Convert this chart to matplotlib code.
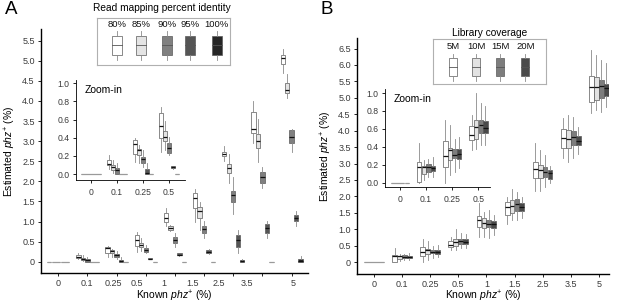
import numpy as np
import matplotlib.pyplot as plt
from matplotlib.patches import Rectangle

plt.rcParams['font.family'] = ['Liberation Sans', 'DejaVu Sans']
plt.rcParams['mathtext.fontset'] = 'custom'
plt.rcParams['mathtext.rm'] = 'Liberation Sans'
plt.rcParams['mathtext.it'] = 'Liberation Sans:italic'

known = ['0', '0.1', '0.25', '0.5', '1', '1.5', '2.5', '3.5', '5']
n_zoom = 4  # groups shown in the zoom-in insets

# ---- panel A: read mapping percent identity (rows) x known phz+ (cols)
identity = ['80%', '85%', '90%', '95%', '100%']
identity_colors = ['#ffffff', '#e4e4e4', '#808080', '#555555', '#262626']
a_lo = [[0, 0.06, 0.13, 0.24, 0.89, 1.00, 2.50, 2.95, 4.69],
        [0, 0.01, 0.12, 0.26, 0.76, 0.79, 1.97, 2.49, 4.07],
        [0, 0.00, 0.08, 0.21, 0.37, 0.58, 1.20, 1.83, 2.74],
        [0, 0.00, 0.00, 0.06, 0.15, 0.19, 0.21, 0.58, 0.89],
        [0, 0.00, 0.00, 0.00, 0.00, 0.00, 0.00, 0.00, 0.00]]
a_q1 = [[0, 0.10, 0.22, 0.40, 1.00, 1.33, 2.62, 3.21, 4.91],
        [0, 0.045, 0.21, 0.36, 0.79, 1.08, 2.20, 2.82, 4.21],
        [0, 0.00, 0.125, 0.23, 0.47, 0.71, 1.48, 1.97, 2.96],
        [0, 0.00, 0.00, 0.07, 0.16, 0.21, 0.37, 0.71, 1.01],
        [0, 0.00, 0.00, 0.00, 0.00, 0.00, 0.00, 0.00, 0.00]]
a_med = [[0, 0.11, 0.33, 0.53, 1.10, 1.58, 2.68, 3.30, 5.06],
         [0, 0.08, 0.26, 0.41, 0.85, 1.27, 2.32, 3.00, 4.27],
         [0, 0.045, 0.165, 0.29, 0.54, 0.81, 1.66, 2.12, 3.10],
         [0, 0.00, 0.015, 0.08, 0.18, 0.25, 0.54, 0.83, 1.08],
         [0, 0.00, 0.00, 0.00, 0.00, 0.00, 0.02, 0.00, 0.03]]
a_q3 = [[0, 0.16, 0.37, 0.67, 1.22, 1.70, 2.74, 3.73, 5.14],
        [0, 0.10, 0.28, 0.47, 0.89, 1.35, 2.43, 3.18, 4.44],
        [0, 0.07, 0.19, 0.34, 0.61, 0.89, 1.77, 2.24, 3.28],
        [0, 0.00, 0.05, 0.09, 0.21, 0.29, 0.66, 0.94, 1.16],
        [0, 0.00, 0.00, 0.00, 0.00, 0.00, 0.05, 0.00, 0.07]]
a_hi = [[0, 0.21, 0.40, 0.74, 1.33, 1.80, 2.88, 4.01, 5.29],
        [0, 0.16, 0.32, 0.58, 0.92, 1.49, 2.68, 3.54, 4.66],
        [0, 0.12, 0.27, 0.41, 0.71, 1.01, 2.10, 2.36, 3.29],
        [0, 0.00, 0.12, 0.09, 0.22, 0.32, 0.79, 1.01, 1.26],
        [0, 0.00, 0.00, 0.00, 0.00, 0.00, 0.08, 0.00, 0.14]]

# ---- panel B: library coverage (rows) x known phz+ (cols)
coverage = ['5M', '10M', '15M', '20M']
coverage_colors = ['#ffffff', '#e2e2e2', '#7d7d7d', '#4a4a4a']
b_lo = [[0, 0.00, 0.00, 0.36, 0.76, 1.15, 2.18, 3.16, 4.53],
        [0, 0.03, 0.08, 0.38, 0.76, 1.27, 2.15, 3.04, 4.63],
        [0, 0.06, 0.12, 0.42, 0.73, 1.27, 2.30, 3.16, 4.58],
        [0, 0.06, 0.16, 0.42, 0.83, 1.34, 2.42, 3.28, 4.73]]
b_q1 = [[0, 0.01, 0.175, 0.475, 1.08, 1.44, 2.55, 3.48, 4.88],
        [0, 0.10, 0.25, 0.49, 1.03, 1.49, 2.55, 3.47, 4.93],
        [0, 0.12, 0.27, 0.55, 1.06, 1.57, 2.59, 3.57, 5.00],
        [0, 0.13, 0.26, 0.55, 1.05, 1.57, 2.53, 3.57, 5.06]]
b_med = [[0, 0.175, 0.30, 0.53, 1.29, 1.67, 2.83, 3.77, 5.34],
         [0, 0.175, 0.36, 0.625, 1.20, 1.71, 2.79, 3.75, 5.32],
         [0, 0.17, 0.31, 0.64, 1.16, 1.77, 2.74, 3.80, 5.36],
         [0, 0.16, 0.32, 0.61, 1.16, 1.69, 2.71, 3.70, 5.29]]
b_q3 = [[0, 0.23, 0.46, 0.63, 1.39, 1.84, 3.06, 4.05, 5.67],
        [0, 0.18, 0.39, 0.70, 1.34, 1.89, 2.96, 4.02, 5.64],
        [0, 0.21, 0.37, 0.70, 1.29, 1.91, 2.91, 4.00, 5.54],
        [0, 0.18, 0.37, 0.69, 1.26, 1.81, 2.81, 3.84, 5.42]]
b_hi = [[0, 0.44, 0.70, 0.76, 1.79, 1.98, 3.64, 4.38, 6.45],
        [0, 0.25, 0.64, 1.00, 1.54, 2.22, 3.41, 4.48, 6.30],
        [0, 0.26, 0.49, 0.89, 1.59, 2.12, 3.26, 4.41, 6.15],
        [0, 0.28, 0.51, 0.85, 1.44, 1.99, 2.93, 4.12, 6.05]]

a_label_pos = [0, 0.97, 1.89, 2.71, 3.63, 4.59, 5.51, 6.46, 8.06]  # labels sit off the ticks in the original

TXT = '#3a3a3a'


def draw_boxes(ax, lo, q1, med, q3, hi, colors, n_groups, step, width):
    n = len(colors)
    for j, col in enumerate(colors):
        stats = [dict(whislo=lo[j][i], q1=q1[j][i], med=med[j][i], q3=q3[j][i], whishi=hi[j][i])
                 for i in range(n_groups)]
        pos = np.arange(n_groups) + (j - (n - 1) / 2) * step
        art = ax.bxp(stats, positions=pos, widths=width, patch_artist=True,
                     showcaps=False, showfliers=False, manage_ticks=False,
                     boxprops=dict(facecolor=col, edgecolor='#5a5a5a', linewidth=0.5),
                     medianprops=dict(color='#111111', linewidth=0.9),
                     whiskerprops=dict(color='#8a8a8a', linewidth=0.6))
        for s, m in zip(stats, art['medians']):
            if s['q3'] - s['q1'] < 0.01:
                m.set_color('#9a9a9a')


def style_axes(ax, size, lw):
    for s in ['top', 'right']:
        ax.spines[s].set_visible(False)
    for s in ['left', 'bottom']:
        ax.spines[s].set_linewidth(lw)
    ax.tick_params(labelsize=size, labelcolor=TXT, length=2.5, width=0.6, pad=2)


def legend_box(rect, labels, colors, xs, bw, y_lab, box, whisk):
    lax = fig.add_axes(rect)
    lax.set_xlim(0, 1)
    lax.set_ylim(0, 1)
    lax.set_xticks([])
    lax.set_yticks([])
    for s in lax.spines.values():
        s.set_color('#b0b0b0')
        s.set_linewidth(0.8)
    for x, lab, col in zip(xs, labels, colors):
        lax.plot([x, x], [whisk[0], box[0]], color='#8a8a8a', lw=0.6)
        lax.plot([x, x], [box[1], whisk[1]], color='#8a8a8a', lw=0.6)
        lax.add_patch(Rectangle((x - bw / 2, box[0]), bw, box[1] - box[0],
                                facecolor=col, edgecolor='#5a5a5a', lw=0.5))
        mid = (box[0] + box[1]) / 2
        lax.plot([x - bw / 2, x + bw / 2], [mid, mid], color='#555555', lw=0.6)
        lax.text(x, y_lab, lab, ha='center', va='center', fontsize=6.8, color='#111111')


fig = plt.figure(figsize=(6.17, 3.04), dpi=100)
W, H = 617, 304


def px_rect(x0, y0, x1, y1):
    return [x0 / W, 1 - y1 / H, (x1 - x0) / W, (y1 - y0) / H]


ylab = r'Estimated $\it{phz}^{+}$ (%)'
xlab = r'Known $\it{phz}^{+}$ (%)'

# ---------------- panel A
ax1 = fig.add_axes(px_rect(41, 29, 308, 273))
draw_boxes(ax1, a_lo, a_q1, a_med, a_q3, a_hi, identity_colors, len(known), 0.154, 0.148)
ax1.set_xlim(-0.59, 8.56)
ax1.set_ylim(-0.28, 5.79)
ax1.set_yticks(np.arange(0, 5.51, 0.5))
ax1.set_yticklabels(['0'] + ['%.1f' % v for v in np.arange(0.5, 5.51, 0.5)])
ax1.xaxis.remove_overlapping_locs = False
ax1.set_xticks(np.arange(len(known)))
ax1.set_xticklabels([])
ax1.set_xticks(a_label_pos, minor=True)
ax1.set_xticklabels(known, minor=True)
style_axes(ax1, 6.5, 1.0)
ax1.tick_params(axis='x', which='minor', length=0, pad=4.5, labelsize=6.5, labelcolor=TXT)
ax1.set_xlabel(xlab, fontsize=7.5, va='center')
ax1.xaxis.set_label_coords(0.5, -0.095)
ax1.set_ylabel(ylab, fontsize=7.5, labelpad=3)

ax1i = fig.add_axes(px_rect(76, 80, 185, 180))
ax1i.patch.set_alpha(0)
draw_boxes(ax1i, a_lo, a_q1, a_med, a_q3, a_hi, identity_colors, n_zoom, 0.154, 0.148)
ax1i.set_xlim(-0.58, 3.62)
ax1i.set_ylim(-0.066, 1.037)
ax1i.set_yticks(np.arange(0, 1.01, 0.2))
ax1i.set_yticklabels(['%.1f' % v for v in np.arange(0, 1.01, 0.2)])
ax1i.set_xticks(np.arange(n_zoom))
ax1i.set_xticklabels(known[:n_zoom])
style_axes(ax1i, 6.2, 0.6)
ax1i.tick_params(axis='x', pad=3)
ax1i.text(0.08, 0.95, 'Zoom-in', transform=ax1i.transAxes, fontsize=7.5, va='top')

legend_box(px_rect(97, 18, 230, 65), identity, identity_colors,
           [0.15, 0.332, 0.525, 0.70, 0.90], 0.075, 0.857, (0.214, 0.62), (0.107, 0.713))
fig.text(162 / W, 1 - 8 / H, 'Read mapping percent identity', ha='center', va='center', fontsize=7.3)
fig.text(5 / W, 1 - 1 / H, 'A', ha='left', va='top', fontsize=13.5)

# ---------------- panel B
ax2 = fig.add_axes(px_rect(357, 38, 609, 274))
draw_boxes(ax2, b_lo, b_q1, b_med, b_q3, b_hi, coverage_colors, len(known), 0.175, 0.17)
ax2.set_xlim(-0.6, 8.36)
ax2.set_ylim(-0.36, 6.82)
ax2.set_yticks(np.arange(0, 6.51, 0.5))
ax2.set_yticklabels(['0'] + ['%.1f' % v for v in np.arange(0.5, 6.51, 0.5)])
ax2.set_xticks(np.arange(len(known)))
ax2.set_xticklabels(known)
style_axes(ax2, 6.5, 1.0)
ax2.tick_params(axis='x', pad=2)
ax2.set_xlabel(xlab, fontsize=7.5, va='center')
ax2.xaxis.set_label_coords(0.5, -0.094)
ax2.set_ylabel(ylab, fontsize=7.5, labelpad=3)

ax2i = fig.add_axes(px_rect(385, 89, 490, 187))
ax2i.patch.set_alpha(0)
draw_boxes(ax2i, b_lo, b_q1, b_med, b_q3, b_hi, coverage_colors, n_zoom, 0.175, 0.17)
ax2i.set_xlim(-0.57, 3.44)
ax2i.set_ylim(-0.05, 1.045)
ax2i.set_yticks(np.arange(0, 1.01, 0.2))
ax2i.set_yticklabels(['%.1f' % v for v in np.arange(0, 1.01, 0.2)])
ax2i.set_xticks(np.arange(n_zoom))
ax2i.set_xticklabels(known[:n_zoom])
style_axes(ax2i, 6.2, 0.6)
ax2i.tick_params(axis='x', pad=3)
ax2i.text(0.08, 0.95, 'Zoom-in', transform=ax2i.transAxes, fontsize=7.5, va='top')

legend_box(px_rect(433, 39, 546, 84), coverage, coverage_colors,
           [0.177, 0.383, 0.596, 0.817], 0.073, 0.836, (0.184, 0.578), (0.058, 0.673))
fig.text(490 / W, 1 - 33 / H, 'Library coverage', ha='center', va='center', fontsize=7.3)
fig.text(321 / W, 1 - 1 / H, 'B', ha='left', va='top', fontsize=13.5)

fig.savefig('out.png', dpi=100)
